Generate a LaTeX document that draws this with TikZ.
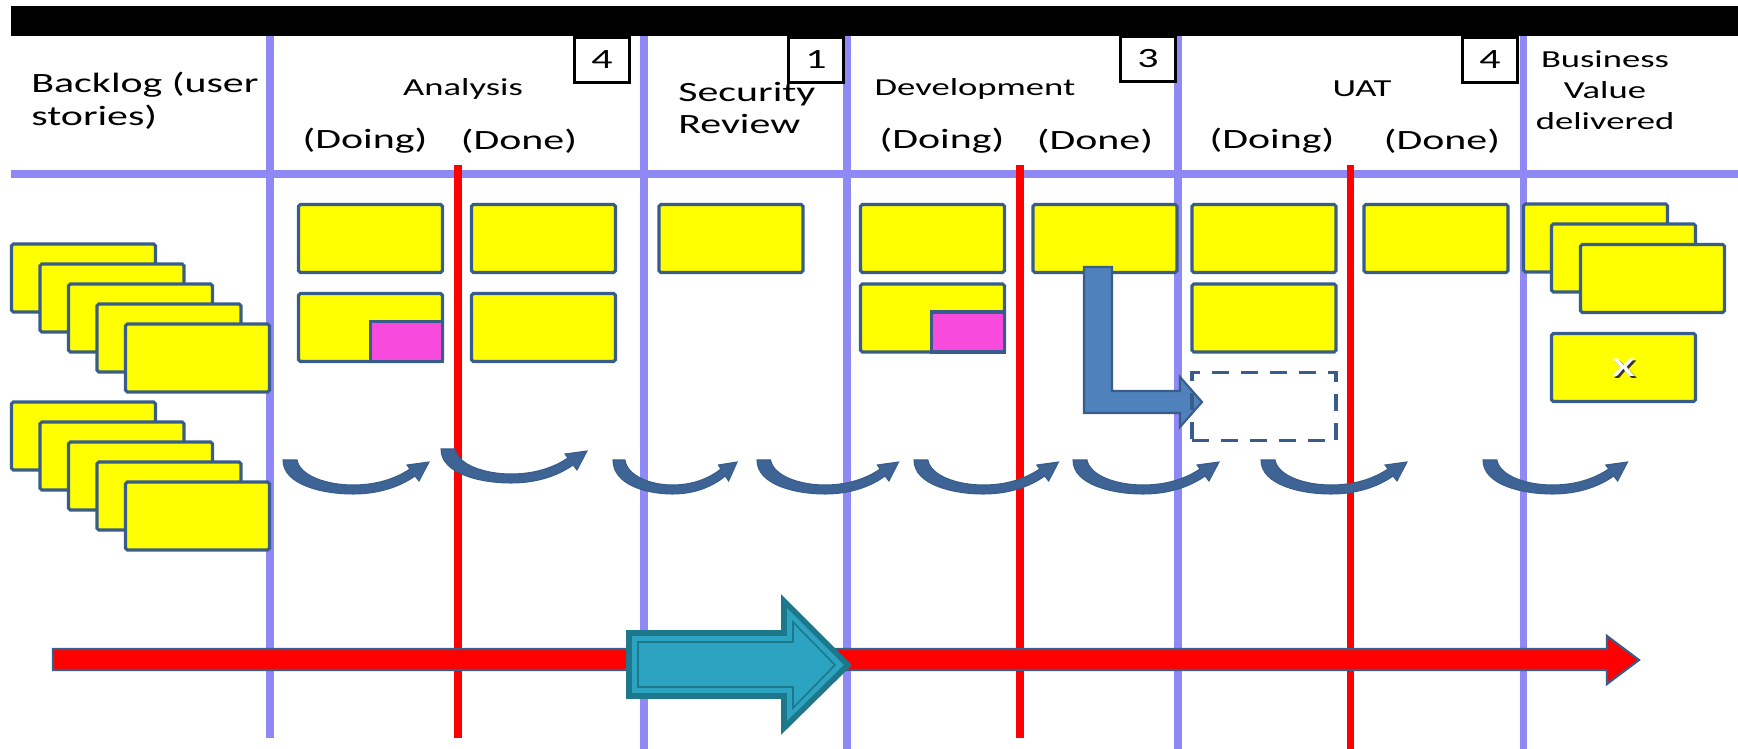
\documentclass[tikz,border=0pt]{standalone}
\usepackage{fontspec}
\setmainfont{Carlito}[FakeStretch=1.5]
\usetikzlibrary{positioning}

\definecolor{lanecol}{RGB}{142,137,245}
\definecolor{wipred}{RGB}{255,0,0}
\definecolor{cardfill}{RGB}{255,255,0}
\definecolor{cardline}{RGB}{56,93,138}
\definecolor{blockcol}{RGB}{248,75,222}
\definecolor{flowblue}{RGB}{62,100,150}
\definecolor{jumpblue}{RGB}{79,129,189}
\definecolor{tealfill}{RGB}{44,163,192}
\definecolor{tealline}{RGB}{30,120,140}

\newcommand{\bigtxt}{\fontsize{15.9}{18.7}\selectfont}
\newcommand{\smalltxt}{\fontsize{13.9}{17.6}\selectfont}

\tikzset{
  lane/.style={draw=lanecol, line width=4pt},
  wipline/.style={draw=wipred, line width=4pt},
  card/.style={draw=cardline, fill=cardfill, line width=1.8pt, rounded corners=1pt,
    minimum width=2.88cm, minimum height=1.36cm, inner sep=0pt},
  blocker/.style={draw=cardline, fill=blockcol, line width=1.8pt, inner sep=0pt},
  numbox/.style={draw=black, fill=white, line width=2.2pt, minimum width=1.1cm,
    minimum height=0.9cm, inner sep=0pt, font=\bigtxt},
  flow/.style={fill=flowblue, draw=cardline, line width=0.6pt},
}

% one curved "pull" arrow, top left corner at #1,#2
\newcommand{\flowarc}[3]{%
  \begin{scope}[shift={(#1,#2)}, xscale=#3]
    \filldraw[flow] (0,0) .. controls (0,25) and (40,34) .. (70,34)
      .. controls (97,34) and (118,26) .. (132,16) -- (136,21) -- (146,2)
      -- (124,5) -- (127,9) .. controls (112,19) and (93,25) .. (70,25)
      .. controls (44,25) and (17,16) .. (14,0) -- cycle;
  \end{scope}}

\begin{document}
\begin{tikzpicture}[x=0.02cm, y=-0.02cm]
  \useasboundingbox (0,0) rectangle (1738,749);

  % board lines
  \draw[lane] (11,174) -- (1738,174);
  \draw[lane] (270,36) -- (270,738);
  \draw[lane] (644,36) -- (644,749);
  \draw[lane] (847,36) -- (847,749);
  \draw[lane] (1178,36) -- (1178,749);
  \draw[lane] (1523,36) -- (1523,749);
  \draw[wipline] (458,165) -- (458,738);
  \draw[wipline] (1020,165) -- (1020,738);
  \draw[wipline] (1350,165) -- (1350,749);
  \fill (11,6) rectangle (1738,36);

  % backlog
  \foreach \k in {0,...,4}
    \node[card] (bla\k) at (83.5+28.5*\k, 278+20*\k) {};
  \foreach \k in {0,...,4}
    \node[card] (blb\k) at (83.5+28.5*\k, 436+20*\k) {};

  % analysis
  \node[card] (an1) at (370.5,238.5) {};
  \node[card] (an2) at (543.5,238.5) {};
  \node[card] (an3) at (370.5,327.5) {};
  \node[card] (an4) at (543.5,327.5) {};
  \node[blocker, minimum width=1.44cm, minimum height=0.8cm, anchor=south east] (anblk) at (an3.south east) {};

  % security review
  \node[card] (sec1) at (731,238.5) {};

  % development
  \node[card] (dev1) at (932.5,238.5) {};
  \node[card] (dev2) at (1105,238.5) {};
  \node[card] (dev3) at (932.5,318) {};
  \node[blocker, minimum width=1.46cm, minimum height=0.8cm, anchor=south east] (devblk) at (dev3.south east) {};

  % uat
  \node[card] (uat1) at (1264,238.5) {};
  \node[card] (uat2) at (1264,318) {};
  \node[card] (uat3) at (1436,238.5) {};

  % business value
  \node[card] (bv1) at (1595.5,238) {};
  \node[card] (bv2) at (1623.5,258) {};
  \node[card] (bv3) at (1652.5,278.5) {};
  \node[card] (bv4) at (1623.5,367.5) {};
  \node[font=\fontsize{21}{21}\selectfont, text=black!80] at (1625.5,370) {x};
  \node[font=\fontsize{21}{21}\selectfont, text=white] (xmark) at (1623.5,368) {x};

  % expedite arrow
  \filldraw[fill=jumpblue, draw=cardline, line width=1.2pt]
    (1084,267) -- (1112,267) -- (1112,391) -- (1180,391) -- (1180,377)
    -- (1202,402) -- (1180,427) -- (1180,413) -- (1084,413) -- cycle;
  \node[draw=cardline, line width=1.9pt, dash pattern=on 9.5pt off 7pt,
    minimum width=2.88cm, minimum height=1.36cm, inner sep=0pt] (slot) at (1264,406.5) {};

  % pull arrows
  \foreach \sx/\sy/\sw in {283/460/1, 441/449/1, 613/460/0.85, 757/460/0.97,
      914/460/0.99, 1073/460/1, 1261/460/1, 1483/460/0.99}
    \flowarc{\sx}{\sy}{\sw};

  % time line
  \filldraw[fill=wipred, draw=cardline, line width=1.2pt]
    (53,649) -- (1607,649) -- (1607,636) -- (1639,660) -- (1607,684)
    -- (1607,670) -- (53,670) -- cycle;
  \filldraw[fill=tealfill, draw=tealline, line width=3.2pt]
    (629,633) -- (784,633) -- (784,601) -- (848,665) -- (784,728)
    -- (784,696) -- (629,696) -- cycle;
  \draw[tealline, line width=0.9pt]
    (638,642) -- (793,642) -- (793,622) -- (835,665) -- (793,708)
    -- (793,687) -- (638,687) -- cycle;

  % headings
  \node[anchor=west, align=left, inner sep=0pt, font=\bigtxt] (backlog) at (31,101) {Backlog (user\\stories)};
  \node[font=\smalltxt] (analysis) at (463,89) {Analysis};
  \node[font=\bigtxt] (andoing) at (365,141) {(Doing)};
  \node[font=\bigtxt] (andone) at (519,141) {(Done)};
  \node[anchor=west, align=left, inner sep=0pt, font=\bigtxt] (secrev) at (678,108) {Security\\Review};
  \node[font=\smalltxt] (devel) at (975,89) {Development};
  \node[font=\bigtxt] (devdoing) at (942,141) {(Doing)};
  \node[font=\bigtxt] (devdone) at (1095,141) {(Done)};
  \node[font=\smalltxt] (uat) at (1362,89) {UAT};
  \node[font=\bigtxt] (uatdoing) at (1272,141) {(Doing)};
  \node[font=\bigtxt] (uatdone) at (1442,141) {(Done)};
  \node[align=center, inner sep=0pt, font=\smalltxt] (bizval) at (1605,90) {Business\\Value\\delivered};

  % wip limits
  \node[numbox] (wipan) at (602,60) {4};
  \node[numbox] (wipsec) at (816,60) {1};
  \node[numbox] (wipdev) at (1148,59) {3};
  \node[numbox] (wipuat) at (1490,60) {4};
\end{tikzpicture}
\end{document}
